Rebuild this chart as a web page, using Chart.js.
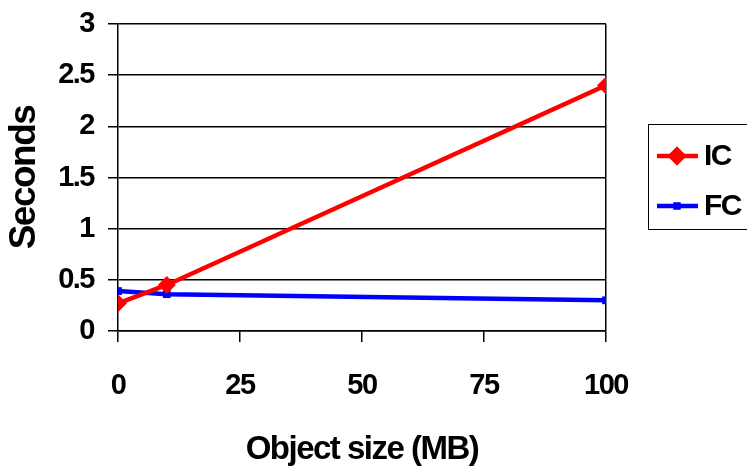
<!DOCTYPE html>
<html>
<head>
<meta charset="utf-8">
<script src="https://cdn.jsdelivr.net/npm/chart.js@4/dist/chart.umd.min.js"></script>
<style>
html,body{margin:0;padding:0;background:#fff;}
#wrap{width:747px;height:471px;position:relative;}
</style>
</head>
<body>
<div id="wrap"><canvas id="c" width="747" height="471"></canvas></div>
<script>
const xValues = [0, 10, 100];
const icValues = [0.27, 0.45, 2.40];
const fcValues = [0.39, 0.36, 0.30];
const seriesNames = ['IC', 'FC'];
const xTitle = 'Object size (MB)';
const yTitle = 'Seconds';

const FONT = '"Liberation Sans", Arial, sans-serif';

const spacingPlugin = {
  id: 'spacing',
  beforeDraw(chart) {
    if ('letterSpacing' in chart.ctx) chart.ctx.letterSpacing = '-1.5px';
  }
};

const legendPlugin = {
  id: 'boxLegend',
  afterDraw(chart) {
    const ctx = chart.ctx;
    ctx.save();
    ctx.strokeStyle = '#000';
    ctx.lineWidth = 1;
    ctx.strokeRect(648.5, 124.5, 120, 105);
    const items = [
      {ds: chart.data.datasets[0], y: 156},
      {ds: chart.data.datasets[1], y: 206}
    ];
    items.forEach(it => {
      ctx.strokeStyle = it.ds.borderColor;
      ctx.lineWidth = 4.5;
      ctx.beginPath();
      ctx.moveTo(657, it.y);
      ctx.lineTo(698, it.y);
      ctx.stroke();
      ctx.fillStyle = it.ds.borderColor;
      ctx.beginPath();
      const r = it.ds.pointStyle === 'rectRot' ? 9.5 : 5;
      Chart.helpers.drawPoint(ctx, {pointStyle: it.ds.pointStyle, radius: r, rotation: 0, borderWidth: 0}, 677, it.y);
      ctx.fill();
      ctx.fillStyle = '#000';
      ctx.font = 'bold 30px ' + FONT;
      ctx.textBaseline = 'middle';
      ctx.textAlign = 'left';
      ctx.fillText(it.ds.label, 704, it.y + 1);
    });
    ctx.restore();
  }
};

new Chart(document.getElementById('c'), {
  type: 'line',
  data: {
    datasets: [
      {
        label: seriesNames[0],
        data: xValues.map((x, i) => ({x: x, y: icValues[i]})),
        borderColor: '#ff0000',
        backgroundColor: '#ff0000',
        borderWidth: 4.5,
        pointStyle: 'rectRot',
        pointRadius: 9,
        pointBorderWidth: 0,
        tension: 0
      },
      {
        label: seriesNames[1],
        data: xValues.map((x, i) => ({x: x, y: fcValues[i]})),
        borderColor: '#0000ff',
        backgroundColor: '#0000ff',
        borderWidth: 4.5,
        pointStyle: 'rect',
        pointRadius: 5.5,
        pointBorderWidth: 0,
        tension: 0
      }
    ]
  },
  options: {
    responsive: false,
    animation: false,
    devicePixelRatio: 1,
    layout: {padding: {top: 24, right: 141, left: 0, bottom: 0}},
    plugins: {legend: {display: false}, tooltip: {enabled: false}},
    scales: {
      x: {
        type: 'linear',
        min: 0, max: 100,
        afterFit(s) { s.height = 140; },
        ticks: {stepSize: 25, padding: 27, color: '#000', font: {family: FONT, size: 29, weight: 'bold'}, maxRotation: 0,
                callback: v => String(v)},
        grid: {
          drawOnChartArea: true,
          color: c => (c.tick && c.tick.value === 100) ? '#000' : 'rgba(0,0,0,0)',
          tickColor: '#000',
          tickLength: 11,
          lineWidth: 1.5
        },
        border: {display: true, color: '#000', width: 1.5},
        title: {display: true, text: xTitle, color: '#000', font: {family: FONT, size: 33, weight: 'bold'}, padding: {top: 0, bottom: 1}}
      },
      y: {
        min: 0, max: 3,
        afterFit(s) { s.width = 118; s.paddingTop = 0; s.paddingBottom = 0; },
        ticks: {stepSize: 0.5, padding: 14, color: '#000', font: {family: FONT, size: 29, weight: 'bold'},
                callback: v => String(v)},
        grid: {color: '#000', tickColor: '#000', tickLength: 10, lineWidth: 1.5},
        border: {display: true, color: '#000', width: 1.5},
        title: {display: true, text: yTitle, color: '#000', font: {family: FONT, size: 37, weight: 'bold'}, padding: {top: 3, bottom: 0}}
      }
    }
  },
  plugins: [spacingPlugin, legendPlugin]
});
</script>
</body>
</html>
